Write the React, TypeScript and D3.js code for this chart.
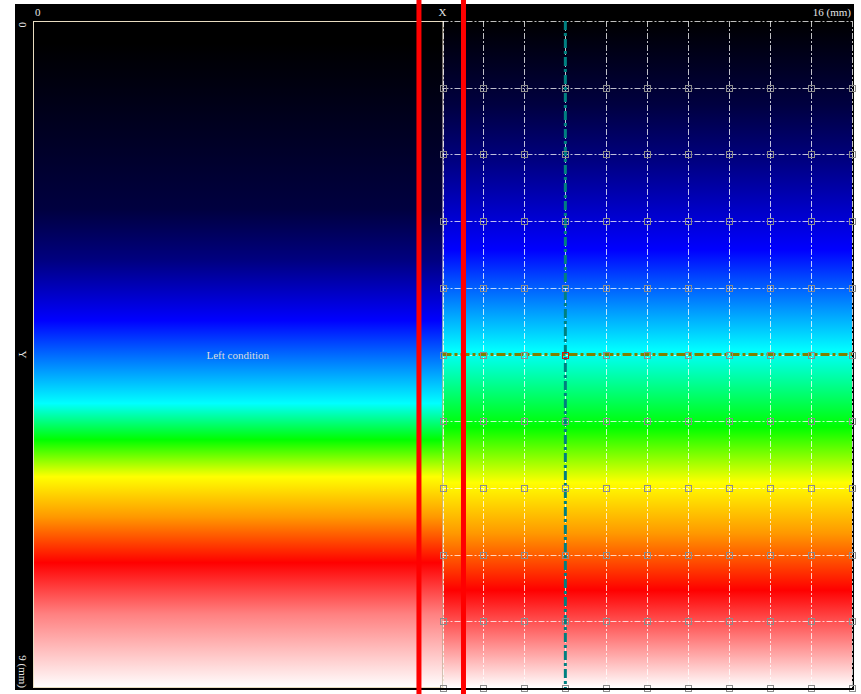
import React from "react";
import * as d3 from "d3";

// Field domain (mm)
const xDomain = [0, 16];
const yDomain = [0, 9];

// Axis labels along top and left edges
const topLabels = [
  { v: 0, text: "0", anchor: "start" },
  { v: 8, text: "X", anchor: "middle" },
  { v: 16, text: "16 (mm)", anchor: "end" },
];
const sideLabels = [
  { v: 0, text: "0", anchor: "start" },
  { v: 4.5, text: "Y", anchor: "middle" },
  { v: 9, text: "9 (mm)", anchor: "end" },
];

// Colour map shared by both regions
const colormap = [
  "#000000", "#000040", "#000080", "#0000ff", "#00ffff", "#00ff00",
  "#ffff00", "#ff9900", "#ff0000", "#ff8080", "#ffffff",
];
// Depth (mm) at which each colour of the map is reached
const leftStops = [0.3, 2.55, 3.23, 4.04, 5.16, 5.65, 6.15, 6.69, 7.31, 8.0, 9.0];
const rightStops = [0.0, 1.13, 1.88, 3.09, 4.45, 5.48, 6.23, 6.91, 7.68, 8.35, 9.0];

// Boundary between the prescribed region and the mesh region
const boundaryX = 8;

// Mesh lines and nodes
const meshX = [8.0, 8.8, 9.6, 10.4, 11.2, 12.0, 12.8, 13.6, 14.4, 15.2, 16.0];
const meshY = [0.0, 0.9, 1.8, 2.7, 3.6, 4.5, 5.4, 6.3, 7.2, 8.1, 9.0];
const nodeY = [0.9, 1.8, 2.7, 3.6, 4.5, 5.4, 6.3, 7.2, 8.1, 9.0];

// Probe lines
const probeX = 10.4;
const probeY = 4.5;

// Cut markers
const cutLines = [7.54, 8.41];

const W = 861;
const H = 694;
const left = 33;
const right = 852;
const top = 21;
const bottom = 688;

export default function App() {
  const x = d3.scaleLinear().domain(xDomain).range([left, right]);
  const y = d3.scaleLinear().domain(yDomain).range([top, bottom]);
  const font = "'Liberation Serif', 'DejaVu Serif', serif";
  const labelColor = "#e4e4e4";
  const bx = x(boundaryX);

  return (
    <svg
      width={W}
      height={H}
      style={{ position: "absolute", left: 0, top: 0, background: "#ffffff" }}
    >
      <defs>
        <linearGradient id="gLeft" gradientUnits="userSpaceOnUse" x1={0} x2={0} y1={top} y2={bottom}>
          {leftStops.map((s, i) => (
            <stop key={i} offset={(y(s) - top) / (bottom - top)} stopColor={colormap[i]} />
          ))}
        </linearGradient>
        <linearGradient id="gRight" gradientUnits="userSpaceOnUse" x1={0} x2={0} y1={top} y2={bottom}>
          {rightStops.map((s, i) => (
            <stop key={i} offset={(y(s) - top) / (bottom - top)} stopColor={colormap[i]} />
          ))}
        </linearGradient>
      </defs>

      {/* frame */}
      <rect x={15} y={4} width={839} height={686} fill="#000000" />

      {/* field */}
      <rect x={left} y={top} width={bx - left} height={bottom - top} fill="url(#gLeft)" />
      <rect x={bx} y={top} width={right - bx} height={bottom - top} fill="url(#gRight)" />

      {/* prescribed region border */}
      <rect
        x={left + 0.5}
        y={top + 0.5}
        width={bx - left}
        height={bottom - top - 1}
        fill="none"
        stroke="#e8dcc0"
        strokeWidth={1}
      />
      <text x={(left + bx) / 2} y={y(4.5) + 4} fill="#dcdcdc" fontFamily={font} fontSize={11} textAnchor="middle">
        Left condition
      </text>

      {/* mesh */}
      <g stroke="#ffffff" strokeOpacity={0.75} strokeWidth={1} strokeDasharray="6,2,2,2" fill="none">
        {meshX.map((v, i) => (
          <line key={"mx" + i} x1={Math.round(x(v)) + 0.5} x2={Math.round(x(v)) + 0.5} y1={top} y2={bottom} />
        ))}
        {meshY.map((v, i) => (
          <line key={"my" + i} x1={bx} x2={right} y1={Math.round(y(v)) + 0.5} y2={Math.round(y(v)) + 0.5} />
        ))}
      </g>

      {/* probe lines */}
      <line
        x1={bx}
        x2={right}
        y1={y(probeY)}
        y2={y(probeY)}
        stroke="#808000"
        strokeWidth={3}
        strokeDasharray="9,3,3,3"
      />
      <line
        x1={x(probeX)}
        x2={x(probeX)}
        y1={top}
        y2={bottom}
        stroke="#008080"
        strokeWidth={3}
        strokeDasharray="9,3,3,3"
      />

      {/* nodes */}
      <g fill="none" strokeWidth={1}>
        {meshX.map((vx, i) =>
          nodeY.map((vy, j) => {
            const hit = vx === probeX && vy === probeY;
            return (
              <rect
                key={i + "-" + j}
                x={Math.round(x(vx)) - 3 + 0.5}
                y={Math.round(y(vy)) - 3 + 0.5}
                width={6}
                height={6}
                stroke={hit ? "#d01818" : "#8c8c8c"}
              />
            );
          })
        )}
      </g>

      {/* bottom frame edge */}
      <line x1={15} x2={854} y1={689} y2={689} stroke="#000000" strokeWidth={2} />

      {/* axis labels */}
      {topLabels.map((d, i) => (
        <text
          key={"t" + i}
          x={x(d.v) + (d.anchor === "start" ? 2 : d.anchor === "end" ? -1 : 0)}
          y={16}
          fill={labelColor}
          fontFamily={font}
          fontSize={11}
          textAnchor={d.anchor}
        >
          {d.text}
        </text>
      ))}
      {sideLabels.map((d, i) => (
        <text
          key={"s" + i}
          transform={`translate(19,${y(d.v) + (d.anchor === "start" ? 1 : 0)}) rotate(90)`}
          fill={labelColor}
          fontFamily={font}
          fontSize={11}
          textAnchor={d.anchor}
        >
          {d.text}
        </text>
      ))}

      {/* cut markers */}
      {cutLines.map((v, i) => (
        <line key={"c" + i} x1={x(v)} x2={x(v)} y1={0} y2={H} stroke="#ff0000" strokeWidth={5} />
      ))}
    </svg>
  );
}
